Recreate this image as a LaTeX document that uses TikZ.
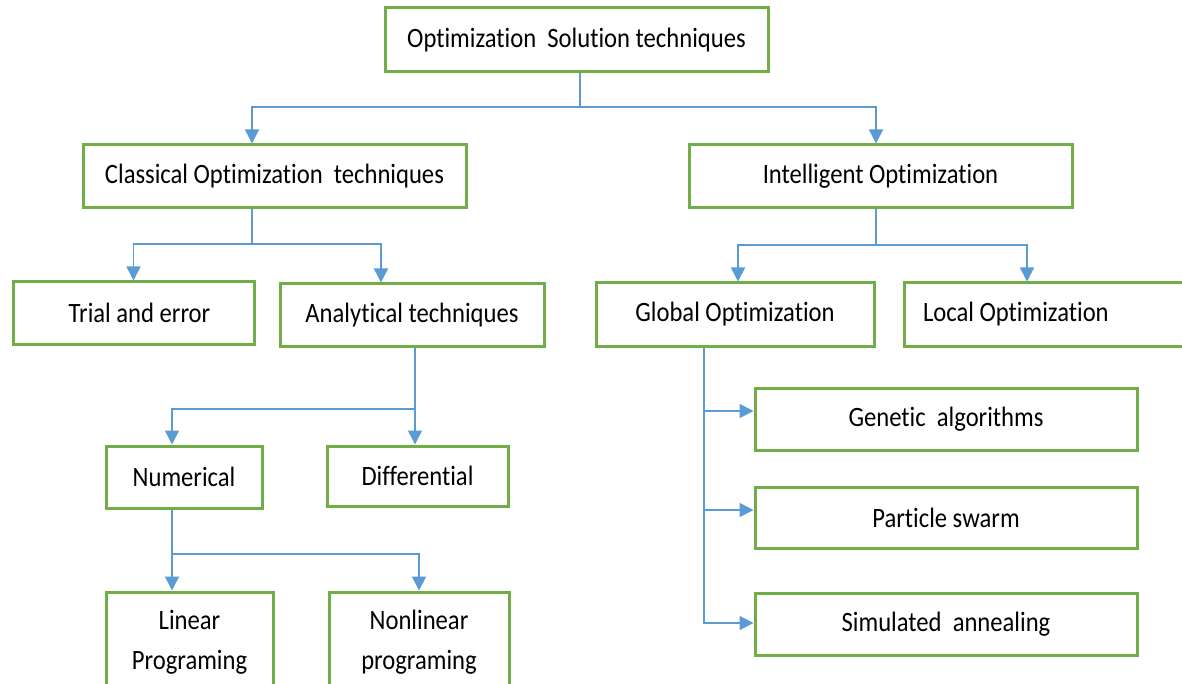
\documentclass[tikz,border=0pt]{standalone}
\usepackage{fontspec}
\setmainfont[FakeStretch=0.88,Ligatures=NoCommon]{Carlito}
\usetikzlibrary{arrows.meta,calc}
\definecolor{boxgreen}{HTML}{70AD47}
\definecolor{lineblue}{HTML}{5B9BD5}
\tikzset{
  box/.style={draw=boxgreen, line width=3pt, inner sep=0pt, align=center,
    font=\fontsize{28}{40}\selectfont, text=black},
  conn/.style={draw=lineblue, line width=1.5pt},
  arr/.style={conn, -{Triangle[length=14pt,width=14pt]}}
}
\begin{document}
\begin{tikzpicture}[x=1pt,y=-1pt]
\useasboundingbox (0,0) rectangle (1182,684);
\clip (0,0) rectangle (1182,684);
\fill[white] (0,0) rectangle (1182,684);
% boxes
\node[box, minimum width=383pt, minimum height=64pt] (top) at (576.5,40) {Optimization\ \ Solution techniques};
\node[box, minimum width=383pt, minimum height=63pt] (classical) at (274.5,176.5) {Classical Optimization\ \ techniques};
\node[box, minimum width=383pt, minimum height=63pt] (intel) at (880.5,176.5) {Intelligent Optimization};
\node[box, minimum width=241pt, minimum height=62pt] (trial) at (133.5,313) {\hspace*{12pt}Trial and error};
\node[box, minimum width=264pt, minimum height=62pt] (analyt) at (412,315) {Analytical techniques};
\node[box, minimum width=278pt, minimum height=63pt] (global) at (735,314.5) {Global Optimization};
\node[box, minimum width=290pt, minimum height=63pt] (local) at (1049,314.5) {\makebox[252pt][l]{Local Optimization}};
\node[box, minimum width=156pt, minimum height=62pt] (numer) at (184,477) {Numerical};
\node[box, minimum width=181pt, minimum height=60pt] (diff) at (417.5,476) {Differential};
\node[box, minimum width=167pt, minimum height=100pt] (linear) at (189.5,642) {Linear\\Programing};
\node[box, minimum width=180pt, minimum height=100pt] (nonlin) at (419,642) {Nonlinear\\programing};
\node[box, minimum width=382pt, minimum height=62pt] (genetic) at (946,419) {Genetic\ \ algorithms};
\node[box, minimum width=382pt, minimum height=61pt] (particle) at (946,517.5) {Particle swarm};
\node[box, minimum width=382pt, minimum height=62pt] (simul) at (946,624) {Simulated\ \ annealing};
% junction coordinates
\coordinate (j1) at (580,107);
\coordinate (j2) at (252,244);
\coordinate (j3) at (876,245);
\coordinate (j4) at (415,409);
\coordinate (j5) at (172,554);
\coordinate (gx) at (704,0);
% top connectors
\draw[conn] (top.south -| j1) -- (j1);
\draw[arr] (j1) -| (classical.north -| j2);
\draw[arr] (j1) -| (intel.north -| j3);
% classical
\draw[conn] (classical.south -| j2) -- (j2);
\draw[arr] (j2) -| (trial.north);
\draw[arr] (j2) -| ([xshift=-31pt]analyt.north);
% intelligent
\draw[conn] (intel.south -| j3) -- (j3);
\draw[arr] (j3) -| ([xshift=3pt]global.north);
\draw[arr] (j3) -| ([xshift=-22pt]local.north);
% analytical
\draw[arr] (analyt.south -| j4) -- (diff.north -| j4);
\draw[arr] (j4) -| (numer.north -| j5);
% numerical
\draw[arr] (numer.south -| j5) -- (linear.north -| j5);
\draw[arr] (j5) -| (nonlin.north);
% global
\draw[conn] (global.south -| gx) -- (simul.west -| gx);
\draw[arr] ([yshift=8pt]genetic.west -| gx) -- ([yshift=8pt]genetic.west);
\draw[arr] ([yshift=7.5pt]particle.west -| gx) -- ([yshift=7.5pt]particle.west);
\draw[arr] ([yshift=1pt]simul.west -| gx) -- ([yshift=1pt]simul.west);
\end{tikzpicture}
\end{document}
